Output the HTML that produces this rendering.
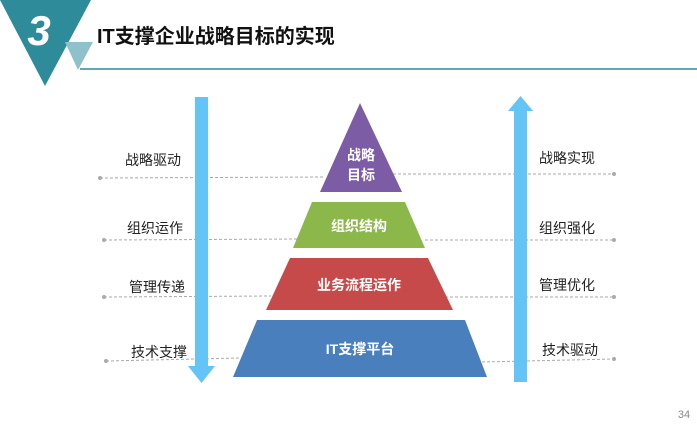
<!DOCTYPE html>
<html><head><meta charset="utf-8"><style>
body{margin:0;background:#fff;}
svg{display:block;font-family:"Liberation Sans","Noto Sans CJK SC",sans-serif;}
</style></head><body>
<svg width="697" height="427" viewBox="0 0 697 427">
<polygon points="0,0 91,0 45,86" fill="#2e8b9a"/>
<polygon points="65,42 93,42 78,70" fill="#8fc1cb"/>
<line x1="80" y1="69" x2="697" y2="69" stroke="#2e8b9a" stroke-width="1.5"/>
<text x="39" y="45" font-size="42" font-weight="bold" font-style="italic" fill="#fff" text-anchor="middle">3</text>
<text x="97" y="43" font-size="20" font-weight="bold" fill="#111">IT支撑企业战略目标的实现</text>

<g stroke="#aaa" stroke-width="1" stroke-dasharray="3,2">
<line x1="100" y1="178" x2="323" y2="177"/>
<line x1="393" y1="174" x2="614" y2="174"/>
<line x1="104" y1="240" x2="300" y2="239"/>
<line x1="425" y1="240" x2="614" y2="240"/>
<line x1="104" y1="297" x2="271" y2="296"/>
<line x1="445" y1="297" x2="614" y2="297"/>
<line x1="106" y1="361" x2="240" y2="358"/>
<line x1="482" y1="362" x2="614" y2="359"/>
</g>
<g fill="#aaa">
<circle cx="100" cy="178" r="2"/><circle cx="104" cy="240" r="2"/><circle cx="104" cy="297" r="2"/><circle cx="106" cy="361" r="2"/>
<circle cx="614" cy="174" r="2"/><circle cx="614" cy="240" r="2"/><circle cx="614" cy="297" r="2"/><circle cx="614" cy="359" r="2"/>
</g>

<polygon points="195,97 208,97 208,366 215,366 201.5,383 188,366 195,366" fill="#64c4f5"/>
<polygon points="514,382 527,382 527,111 533,111 520.5,96 508,111 514,111" fill="#64c4f5"/>

<polygon points="360,103 402,192 320,192" fill="#7d5ca6"/>
<polygon points="312,202 405,202 425,248 293,248" fill="#8cb84b"/>
<polygon points="290,258 428,258 453,310 266,310" fill="#c64a4a"/>
<polygon points="257,320 465,320 487,377 233,377" fill="#4a7fbd"/>
<g fill="#fff" font-weight="bold" font-size="14" text-anchor="middle">
<text x="361" y="160">战略</text>
<text x="361" y="180">目标</text>
<text x="359" y="231">组织结构</text>
<text x="359" y="290">业务流程运作</text>
<text x="360" y="354">IT支撑平台</text>
</g>
<g fill="#222" font-size="14" text-anchor="middle">
<text x="153" y="165">战略驱动</text>
<text x="155" y="233">组织运作</text>
<text x="157" y="292">管理传递</text>
<text x="159" y="357">技术支撑</text>
<text x="567" y="163">战略实现</text>
<text x="567" y="233">组织强化</text>
<text x="567" y="290">管理优化</text>
<text x="570" y="355">技术驱动</text>
</g>
<text x="684" y="418" font-size="11" fill="#888" text-anchor="middle">34</text>
</svg>
</body></html>
